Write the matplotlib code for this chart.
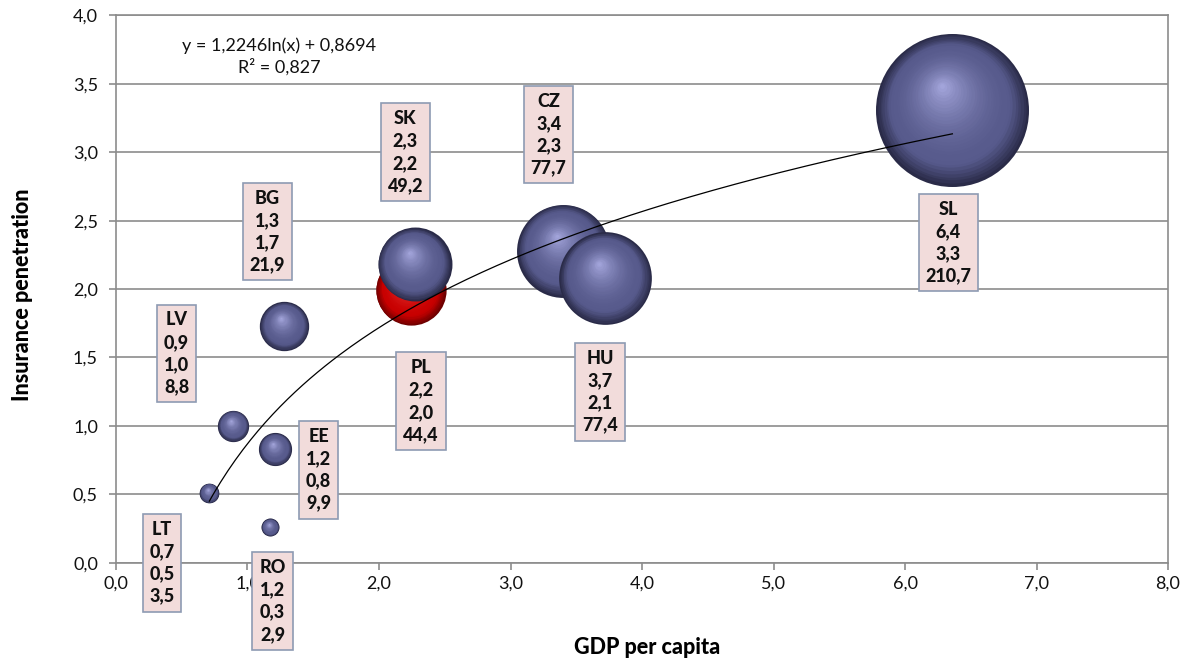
import numpy as np
import matplotlib
matplotlib.use('Agg')
import matplotlib.pyplot as plt
from matplotlib.transforms import offset_copy
from matplotlib.colors import to_rgb
from matplotlib.ticker import FuncFormatter

plt.rcParams['font.family'] = ['Lato', 'DejaVu Sans']

# data
countries = ['LT', 'LV', 'RO', 'EE', 'BG', 'PL', 'SK', 'CZ', 'HU', 'SL']
gdp = [0.71, 0.89, 1.17, 1.21, 1.28, 2.24, 2.27, 3.40, 3.72, 6.36]
penetration = [0.51, 1.00, 0.26, 0.83, 1.73, 1.99, 2.18, 2.28, 2.08, 3.31]
bubble_size = [3.5, 8.8, 2.9, 9.9, 21.9, 44.4, 49.2, 77.7, 77.4, 210.7]
highlight = 'PL'

# where each data label box sits (data coords)
label_pos = [(0.35, 0.00), (0.46, 1.53), (1.19, -0.28), (1.54, 0.68), (1.15, 2.42),
             (2.32, 1.18), (2.20, 3.00), (3.29, 3.13), (3.68, 1.25), (6.33, 2.34)]

# log trendline as reported by the spreadsheet
trend_a, trend_b = 1.2246, 0.8694
trend_text = 'y = 1,2246ln(x) + 0,8694\nR² = 0,827'

fig = plt.figure(figsize=(11.92, 6.62), dpi=100)
ax = fig.add_axes([0.0973, 0.15, 0.8826, 0.8266])
ax.set_xlim(0, 8)
ax.set_ylim(0, 4)

grey = '#8c8c8c'
ax.set_yticks(np.arange(0, 4.01, 0.5))
ax.set_xticks(np.arange(0, 8.01, 1.0))
ax.yaxis.grid(True, color=grey, linewidth=1.2)
ax.set_axisbelow(True)
for sp in ax.spines.values():
    sp.set_color(grey)
    sp.set_linewidth(1.2)
comma = FuncFormatter(lambda v, p: f'{v:.1f}'.replace('.', ','))
ax.xaxis.set_major_formatter(comma)
ax.yaxis.set_major_formatter(comma)
ax.tick_params(axis='both', colors=grey, labelcolor='#111111', labelsize=13,
               length=5, width=1.2)
ax.tick_params(axis='y', pad=8)
ax.tick_params(axis='x', pad=4)

ax.set_xlabel('GDP per capita', fontsize=15.5, fontweight='black')
ax.set_ylabel('Insurance penetration', fontsize=15.5, fontweight='black')
ax.xaxis.set_label_coords(0.505, -0.135)
ax.yaxis.set_label_coords(-0.079, 0.49)


def shade(dark, base, light, t):
    dark, base, light = np.array(to_rgb(dark)), np.array(to_rgb(base)), np.array(to_rgb(light))
    if t < 0.2:
        u = t / 0.2
        return dark * (1 - u) + base * u
    u = ((t - 0.2) / 0.8) ** 1.8
    return base * (1 - u) + light * u


k = 57.6  # marker area (pt^2) per unit of bubble size
layers = 32
for name, x, y, sz in zip(countries, gdp, penetration, bubble_size):
    if name == highlight:
        cols = ('#6e0000', '#c80000', '#ff6a6a')
    else:
        cols = ('#2a2b48', '#575a8c', '#a8aae0')
    r = np.sqrt(k * sz) / 2
    for i in range(layers):
        t = i / layers
        rr = r * (1 - t)
        tr = offset_copy(ax.transData, fig=fig, x=-0.14 * r * t, y=0.32 * r * t, units='points')
        ax.scatter([x], [y], s=(2 * rr) ** 2, color=[shade(*cols, t)], linewidths=0,
                   transform=tr, zorder=2)

xs = np.linspace(min(gdp), max(gdp), 200)
ax.plot(xs, trend_a * np.log(xs) + trend_b, color='black', linewidth=0.9, zorder=3)

ax.text(1.24, 3.70, trend_text, ha='center', va='center', fontsize=13,
        linespacing=1.3, color='#111111')

for name, x, y, sz, (lx, ly) in zip(countries, gdp, penetration, bubble_size, label_pos):
    txt = f'{name}\n{x:.1f}\n{y:.1f}\n{sz:.1f}'.replace('.', ',')
    ax.text(lx, ly, txt, ha='center', va='center', fontsize=13, fontweight='black',
            linespacing=1.38, color='#111111', zorder=5,
            bbox=dict(boxstyle='square,pad=0.38', facecolor='#f2dcdb',
                      edgecolor='#8e9bb3', linewidth=1.2))

fig.savefig('out.png', dpi=100)
